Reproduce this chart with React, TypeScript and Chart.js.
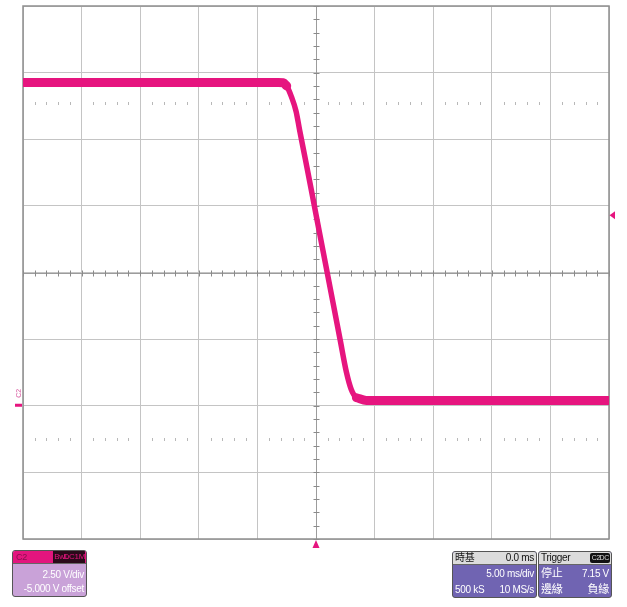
import React, { useEffect, useRef } from "react";
import { Chart, registerables } from "chart.js";

Chart.register(...registerables);

// Trace (C2) — time in ms, voltage in V
const timeMs = [-25, -3.2, -2.8, -2.5, -2.1, -1.7, -1.4, -0.9, -0.4, 0, 1.0, 2.05, 2.6, 3.0, 3.45, 4.3, 25];
const volts = [12.13, 12.13, 12.12, 12.0, 11.6, 11.05, 10.35, 9.23, 8.1, 7.18, 4.9, 2.5, 1.25, 0.62, 0.3, 0.2, 0.2];

// Scope settings
const msPerDiv = 5;
const vPerDiv = 2.5;
const xDivs = 10;
const yDivs = 8;
const centerVolts = 5; // -5.000 V offset
const triggerLevel = 7.15;
const triggerTime = 0;
const groundLevel = 0;
const dottedRows = [11.35, -1.25];

const MAGENTA = "#E6157F";

const scopePlugin = {
  id: "scope",
  beforeDatasetsDraw(chart: any) {
    const { ctx, chartArea, scales } = chart;
    const { left, right, top, bottom } = chartArea;
    const x = scales.x;
    const y = scales.y;
    ctx.save();
    const cx = Math.round(x.getPixelForValue(0)) + 0.5;
    const cy = Math.round(y.getPixelForValue(centerVolts)) + 0.5;
    ctx.strokeStyle = "#9c9c9c";
    ctx.lineWidth = 1;
    ctx.beginPath();
    ctx.moveTo(left, cy);
    ctx.lineTo(right, cy);
    ctx.moveTo(cx, top);
    ctx.lineTo(cx, bottom);
    ctx.stroke();
    ctx.strokeStyle = "#8a8a8a";
    ctx.beginPath();
    const xMin = -(xDivs / 2) * msPerDiv;
    const xMax = (xDivs / 2) * msPerDiv;
    const minorX = msPerDiv / 5;
    for (let t = xMin; t <= xMax + 1e-6; t += minorX) {
      const px = Math.round(x.getPixelForValue(t)) + 0.5;
      ctx.moveTo(px, cy - 3);
      ctx.lineTo(px, cy + 3);
    }
    const yMin = centerVolts - (yDivs / 2) * vPerDiv;
    const yMax = centerVolts + (yDivs / 2) * vPerDiv;
    const minorY = vPerDiv / 5;
    for (let v = yMin; v <= yMax + 1e-6; v += minorY) {
      const py = Math.round(y.getPixelForValue(v)) + 0.5;
      ctx.moveTo(cx - 3, py);
      ctx.lineTo(cx + 3, py);
    }
    ctx.stroke();
    ctx.fillStyle = "#b8b8b8";
    for (const rv of dottedRows) {
      const py = Math.round(y.getPixelForValue(rv));
      for (let t = xMin; t <= xMax + 1e-6; t += minorX) {
        const k = Math.round(t / minorX);
        if (k % 5 === 0) continue;
        const px = Math.round(x.getPixelForValue(t));
        ctx.fillRect(px, py - 1, 1, 3);
      }
    }
    ctx.strokeStyle = "#8e8e8e";
    ctx.lineWidth = 1.5;
    ctx.strokeRect(left, top, right - left, bottom - top);
    ctx.restore();
  },
  afterDatasetsDraw(chart: any) {
    const { ctx, chartArea, scales } = chart;
    const { left, right, bottom } = chartArea;
    const x = scales.x;
    const y = scales.y;
    ctx.save();
    ctx.fillStyle = MAGENTA;
    const ty = y.getPixelForValue(triggerLevel);
    ctx.beginPath();
    ctx.moveTo(right + 0.5, ty);
    ctx.lineTo(right + 6, ty - 4);
    ctx.lineTo(right + 6, ty + 4);
    ctx.closePath();
    ctx.fill();
    const tx = x.getPixelForValue(triggerTime);
    ctx.beginPath();
    ctx.moveTo(tx, bottom + 1);
    ctx.lineTo(tx - 3.5, bottom + 9);
    ctx.lineTo(tx + 3.5, bottom + 9);
    ctx.closePath();
    ctx.fill();
    const gy = y.getPixelForValue(groundLevel);
    ctx.fillRect(left - 8, gy - 2, 7, 3);
    ctx.fillStyle = "#d85aa0";
    ctx.font = "7px 'Liberation Sans', Arial, sans-serif";
    ctx.translate(left - 4, gy - 8);
    ctx.rotate(-Math.PI / 2);
    ctx.textAlign = "left";
    ctx.textBaseline = "middle";
    ctx.fillText("C2", 0, 0);
    ctx.restore();
  },
};

const font = "'Liberation Sans', Arial, sans-serif";
const cjk = "'Liberation Sans', 'Noto Sans CJK TC', sans-serif";

function Panel(props: {
  left: number;
  top: number;
  width: number;
  height: number;
  headerBg: string;
  bodyBg: string;
  children: React.ReactNode;
  header: React.ReactNode;
}) {
  return (
    <div
      style={{
        position: "absolute",
        left: props.left,
        top: props.top,
        width: props.width,
        height: props.height,
        border: "1px solid #555",
        borderRadius: 3,
        overflow: "hidden",
        background: props.bodyBg,
        boxSizing: "border-box",
      }}
    >
      <div
        style={{
          height: 12,
          background: props.headerBg,
          position: "relative",
          borderBottom: "1px solid #666",
        }}
      >
        {props.header}
      </div>
      {props.children}
    </div>
  );
}

const txt = (
  s: string,
  pos: React.CSSProperties,
  color: string,
  f: string = font,
  size = 10
) => (
  <div
    style={{
      position: "absolute",
      fontFamily: f,
      fontSize: size,
      lineHeight: "12px",
      color,
      whiteSpace: "nowrap",
      letterSpacing: "-0.3px",
      ...pos,
    }}
  >
    {s}
  </div>
);

export default function App() {
  const canvasRef = useRef<HTMLCanvasElement | null>(null);

  useEffect(() => {
    const canvas = canvasRef.current;
    if (!canvas) return;
    const points = timeMs.map((t, i) => ({ x: t, y: volts[i] }));
    // noise band on the flat levels (same samples, only the settled parts)
    const flatPoints = points.map((p) =>
      p.y > 11.9 || p.y < 0.35 ? p : { x: p.x, y: null as any }
    );
    const chart = new Chart(canvas, {
      type: "line",
      data: {
        datasets: [
          {
            label: "C2 band",
            data: flatPoints,
            borderColor: MAGENTA,
            borderWidth: 9,
            borderCapStyle: "round",
            pointRadius: 0,
            spanGaps: false,
            cubicInterpolationMode: "monotone",
          } as any,
          {
            label: "C2",
            data: points,
            borderColor: MAGENTA,
            borderWidth: 5.5,
            borderCapStyle: "round",
            borderJoinStyle: "round",
            pointRadius: 0,
            cubicInterpolationMode: "monotone",
          } as any,
        ],
      },
      options: {
        responsive: false,
        animation: false,
        devicePixelRatio: 1,
        layout: { padding: { left: 23, top: 6, right: 18, bottom: 68 } },
        plugins: { legend: { display: false }, tooltip: { enabled: false } },
        scales: {
          x: {
            type: "linear",
            min: -(xDivs / 2) * msPerDiv,
            max: (xDivs / 2) * msPerDiv,
            ticks: { display: false, stepSize: msPerDiv },
            grid: { color: "#c4c4c4", lineWidth: 1, drawTicks: false },
            border: { display: false },
          },
          y: {
            type: "linear",
            min: centerVolts - (yDivs / 2) * vPerDiv,
            max: centerVolts + (yDivs / 2) * vPerDiv,
            ticks: { display: false, stepSize: vPerDiv },
            grid: { color: "#c4c4c4", lineWidth: 1, drawTicks: false },
            border: { display: false },
          },
        },
      },
      plugins: [scopePlugin],
    });
    return () => chart.destroy();
  }, []);

  const purple = "#7064B2";
  return (
    <div
      style={{
        position: "absolute",
        left: 0,
        top: 0,
        width: 627,
        height: 607,
        background: "#fff",
        overflow: "hidden",
      }}
    >
      <canvas ref={canvasRef} width={627} height={607} style={{ display: "block" }} />
      <Panel
        left={12}
        top={550}
        width={75}
        height={47}
        headerBg="#E3157E"
        bodyBg="#C9A2D8"
        header={
          <>
            {txt("C2", { left: 3, top: 0 }, "#8a1050", font, 9)}
            <div
              style={{
                position: "absolute",
                right: 1,
                top: 0,
                width: 32,
                height: 12,
                background: "#2a0a1a",
              }}
            />
            {txt("BwL", { right: 17, top: 0 }, MAGENTA, font, 8)}
            {txt("DC1M", { right: 1, top: 0 }, MAGENTA, font, 8)}
          </>
        }
      >
        {txt("2.50 V/div", { right: 2, top: 18 }, "#fff")}
        {txt("-5.000 V offset", { right: 2, top: 32 }, "#fff")}
      </Panel>
      <Panel
        left={452}
        top={551}
        width={85}
        height={47}
        headerBg="#DCDCDC"
        bodyBg={purple}
        header={
          <>
            {txt("時基", { left: 2, top: 0 }, "#111", cjk, 10)}
            {txt("0.0 ms", { right: 2, top: 0 }, "#111")}
          </>
        }
      >
        {txt("5.00 ms/div", { right: 2, top: 16 }, "#fff")}
        {txt("500 kS", { left: 2, top: 32 }, "#fff")}
        {txt("10 MS/s", { right: 2, top: 32 }, "#fff")}
      </Panel>
      <Panel
        left={538}
        top={551}
        width={74}
        height={47}
        headerBg="#DCDCDC"
        bodyBg={purple}
        header={
          <>
            {txt("Trigger", { left: 2, top: 0 }, "#111")}
            <div
              style={{
                position: "absolute",
                right: 1,
                top: 1,
                width: 20,
                height: 10,
                background: "#111",
                borderRadius: 2,
              }}
            />
            {txt("C2", { right: 11, top: 0 }, "#ddd", font, 7)}
            {txt("DC", { right: 2, top: 0 }, "#ddd", font, 7)}
          </>
        }
      >
        {txt("停止", { left: 2, top: 15 }, "#fff", cjk, 11)}
        {txt("7.15 V", { right: 2, top: 16 }, "#fff")}
        {txt("邊緣", { left: 2, top: 31 }, "#fff", cjk, 11)}
        {txt("負緣", { right: 2, top: 31 }, "#fff", cjk, 11)}
      </Panel>
    </div>
  );
}
